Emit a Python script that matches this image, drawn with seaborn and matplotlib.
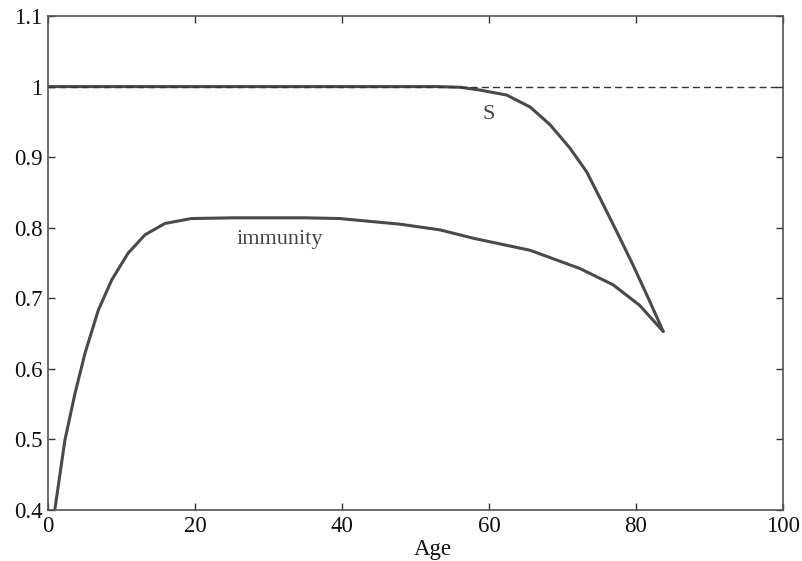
import pandas as pd
import seaborn as sns
import matplotlib.pyplot as plt

# values
s_age = [0, 10, 20, 30, 40, 50, 53, 56.1, 58.8, 62.4, 65.6, 68.3, 71.0, 73.3, 75.1,
         77.4, 79.6, 81.9, 83.7]
s_val = [1.0, 1.0, 1.0, 1.0, 1.0, 1.0, 1.0, 0.999, 0.995, 0.988, 0.971, 0.946, 0.913, 0.879, 0.842,
         0.794, 0.747, 0.695, 0.653]

imm_age = [0.95, 2.3, 3.67, 5.03, 6.84, 8.67, 10.9, 13.2, 15.9, 19.5, 25, 30, 35, 39.7, 47.9,
           53.3, 57.9, 65.6, 72.4, 76.9, 80.5, 83.7]
imm_val = [0.402, 0.499, 0.565, 0.622, 0.683, 0.726, 0.764, 0.790, 0.806, 0.813, 0.814, 0.814, 0.814,
           0.813, 0.805, 0.797, 0.785, 0.768, 0.742, 0.719, 0.690, 0.653]

ref_age = [0, 100]
ref_val = [1.0, 1.0]

x_ticks = [0, 20, 40, 60, 80, 100]
y_ticks = [0.4, 0.5, 0.6, 0.7, 0.8, 0.9, 1.0, 1.1]
y_labels = ["0.4", "0.5", "0.6", "0.7", "0.8", "0.9", "1", "1.1"]

sns.set_style("ticks")
plt.rcParams['font.family'] = ['Liberation Serif', 'DejaVu Serif']

df_s = pd.DataFrame({"Age": s_age, "value": s_val})
df_imm = pd.DataFrame({"Age": imm_age, "value": imm_val})
df_ref = pd.DataFrame({"Age": ref_age, "value": ref_val})

fig = plt.figure(figsize=(8.02, 5.61), dpi=100)
ax = fig.add_axes([48 / 802, 1 - 510 / 561, 735 / 802, 494 / 561])

line_col = "#4a4a4a"
sns.lineplot(data=df_s, x="Age", y="value", color=line_col, lw=2.2, ax=ax)
sns.lineplot(data=df_imm, x="Age", y="value", color=line_col, lw=2.2, ax=ax)
sns.lineplot(data=df_ref, x="Age", y="value", color="#333333", lw=1.0, ls=(0, (5, 3)), ax=ax)

ax.text(59.9, 0.96, "S", fontsize=16, color="#444444", ha="center", va="center")
ax.text(31.6, 0.784, "immunity", fontsize=16, color="#444444", ha="center", va="center")

ax.set_xlim(0, 100)
ax.set_ylim(0.4, 1.1)
ax.set_xticks(x_ticks)
ax.set_yticks(y_ticks)
ax.set_yticklabels(y_labels)
ax.tick_params(direction="in", length=5, width=1, top=True, right=True,
               labelsize=16.5, colors="#333333", labelcolor="#111111", pad=4)
for sp in ax.spines.values():
    sp.set_color("#555555")
    sp.set_linewidth(1.2)
    sp.set_visible(True)

ax.set_xlabel("Age", fontsize=16.5, color="#111111")
ax.set_ylabel("")
ax.xaxis.set_label_coords((433 - 48) / 735, -0.058)

fig.savefig("out.png", dpi=100)
